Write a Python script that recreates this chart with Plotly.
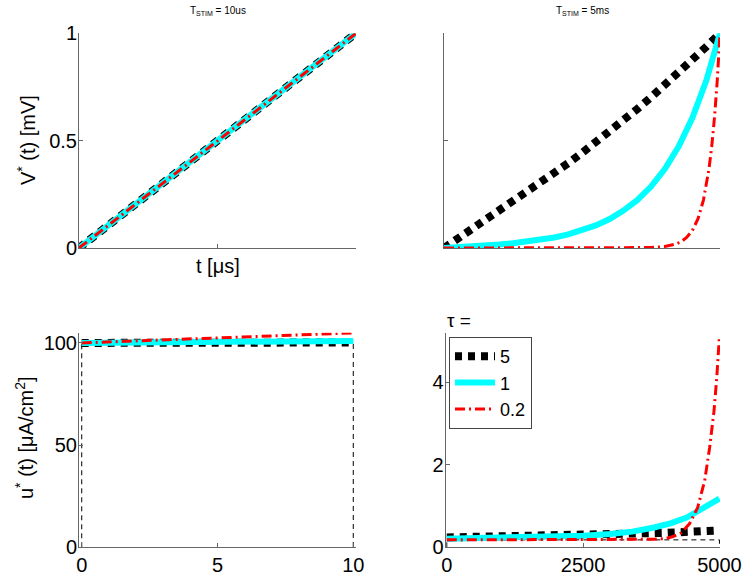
import plotly.graph_objects as go

# ---------------- data ----------------
# Top-left: T_STIM = 10 us, V*(t)
t_tl = [0, 1, 2, 3, 4, 5, 6, 7, 8, 9, 10]
v_tl_tau5 = [0, 0.1, 0.2, 0.3, 0.4, 0.5, 0.6, 0.7, 0.8, 0.9, 1.0]
v_tl_tau1 = [0, 0.1, 0.2, 0.3, 0.4, 0.5, 0.6, 0.7, 0.8, 0.9, 1.0]
v_tl_tau02 = [0, 0.099, 0.199, 0.299, 0.399, 0.499, 0.599, 0.699, 0.8, 0.9, 1.0]

# Top-right: T_STIM = 5 ms, V*(t)
t_tr = [0, 250, 500, 750, 1000, 1250, 1500, 1750, 2000, 2250, 2500,
        2750, 3000, 3250, 3500, 3750, 4000, 4250, 4500, 4750, 5000]
v_tr_tau5 = [0, 0.043, 0.085, 0.128, 0.171, 0.215, 0.259, 0.303, 0.348, 0.395, 0.443,
             0.492, 0.542, 0.594, 0.647, 0.702, 0.758, 0.816, 0.876, 0.937, 1.0]
v_tr_tau1 = [0, 0.003, 0.007, 0.011, 0.016, 0.022, 0.029, 0.038, 0.049, 0.063, 0.082,
             0.105, 0.135, 0.174, 0.223, 0.286, 0.368, 0.472, 0.606, 0.779, 1.0]
t_tr_red = [0, 2500, 3500, 3750, 4000, 4100, 4200, 4300, 4400, 4500, 4600,
            4700, 4750, 4800, 4850, 4900, 4950, 5000]
v_tr_tau02 = [0, 0, 0.001, 0.002, 0.007, 0.011, 0.018, 0.030, 0.050, 0.082, 0.135,
              0.223, 0.287, 0.368, 0.472, 0.607, 0.779, 1.0]

# Bottom-left: T_STIM = 10 us, u*(t)
t_bl = [0, 1, 2, 3, 4, 5, 6, 7, 8, 9, 10]
u_bl_tau5 = [100.0, 100.02, 100.04, 100.06, 100.08, 100.1, 100.12, 100.14, 100.16, 100.18, 100.2]
u_bl_tau1 = [100.0, 100.1, 100.2, 100.3, 100.4, 100.5, 100.6, 100.7, 100.8, 100.9, 101.0]
u_bl_tau02 = [100.0, 100.5, 101.0, 101.5, 102.0, 102.5, 103.0, 103.5, 104.0, 104.5, 104.9]
t_bl_rect = [0, 0, 10, 10]
u_bl_rect = [0, 100, 100, 0]

# Bottom-right: T_STIM = 5 ms, u*(t)
t_br_tau5 = [0, 1000, 2000, 3000, 4000, 4500, 5000]
u_br_tau5 = [0.24, 0.26, 0.29, 0.32, 0.35, 0.38, 0.41]
t_br_tau1 = [0, 1000, 2000, 2500, 3000, 3400, 3800, 4100, 4400, 4700, 5000]
u_br_tau1 = [0.21, 0.23, 0.26, 0.28, 0.32, 0.38, 0.48, 0.58, 0.72, 0.93, 1.18]
t_br_tau02 = [0, 1000, 2000, 3000, 3500, 3800, 4000, 4150, 4300, 4450, 4600,
              4730, 4820, 4900, 4950, 5000]
u_br_tau02 = [0.18, 0.18, 0.18, 0.18, 0.185, 0.195, 0.21, 0.26, 0.35, 0.57, 0.96,
              1.62, 2.42, 3.3, 4.1, 5.13]
t_br_rect = [0, 0, 5000, 5000]
u_br_rect = [0, 0.18, 0.18, 0]

tau_names = ["5", "1", "0.2"]

# ---------------- styles ----------------
W, H = 747, 576
FONT = "Liberation Sans, Arial, Helvetica, sans-serif"
BLACK = dict(color="black", width=8, dash="7px,6px")
CYAN = dict(color="#00FFFF", width=6)
RED = dict(color="red", width=3, dash="10px,4px,2px,4px")
RECT = dict(color="black", width=1, dash="5px,4px")
AXC = "#666666"


def sx(px):
    return px / W


def sy(py):
    return 1 - py / H


def px_x(a, b):
    return [sx(a), sx(b)]


def px_y(top, bottom):
    return [sy(bottom), sy(top)]


fig = go.Figure()


def add(x, y, line, ax, name=None, legend=False):
    fig.add_trace(go.Scatter(x=x, y=y, mode="lines", line=line,
                             xaxis="x" + ax, yaxis="y" + ax,
                             name=name, showlegend=legend, hoverinfo="skip"))


# top-left
add(t_tl, v_tl_tau5, BLACK, "")
add(t_tl, v_tl_tau1, CYAN, "")
add(t_tl, v_tl_tau02, RED, "")
# top-right
add(t_tr, v_tr_tau5, BLACK, "2")
add(t_tr, v_tr_tau1, CYAN, "2")
add(t_tr_red, v_tr_tau02, RED, "2")
# bottom-left
add(t_bl_rect, u_bl_rect, RECT, "3")
add(t_bl, u_bl_tau5, BLACK, "3")
add(t_bl, u_bl_tau1, CYAN, "3")
add(t_bl, u_bl_tau02, RED, "3")
# bottom-right
add(t_br_rect, u_br_rect, RECT, "4")
add(t_br_tau5, u_br_tau5, BLACK, "4", tau_names[0], True)
add(t_br_tau1, u_br_tau1, CYAN, "4", tau_names[1], True)
add(t_br_tau02, u_br_tau02, RED, "4", tau_names[2], True)

axcommon = dict(showline=True, linecolor=AXC, linewidth=1, mirror=False,
                showgrid=False, zeroline=False, ticks="inside", ticklen=4,
                tickcolor=AXC, tickwidth=1, automargin=False,
                tickfont=dict(family=FONT, size=20, color="black"))

fig.update_layout(
    width=W, height=H,
    margin=dict(l=0, r=0, t=0, b=0, pad=0),
    paper_bgcolor="white", plot_bgcolor="white",
    font=dict(family=FONT, size=20, color="black"),
    xaxis=dict(domain=px_x(79, 356), range=[0, 10], tickvals=[0, 5, 10],
               showticklabels=False, anchor="y", **axcommon),
    yaxis=dict(domain=px_y(33.3, 248), range=[0, 1], tickvals=[0, 0.5, 1],
               ticktext=["0", "0.5", "1"], anchor="x", ticklabelstandoff=-3, **axcommon),
    xaxis2=dict(domain=px_x(444, 720), range=[0, 5000], tickvals=[0, 5000],
                showticklabels=False, anchor="y2", **axcommon),
    yaxis2=dict(domain=px_y(33.3, 248), range=[0, 1], tickvals=[0, 0.5, 1],
                showticklabels=False, anchor="x2", **axcommon),
    xaxis3=dict(domain=px_x(79, 356), range=[-0.1, 10.1], tickvals=[0, 5, 10],
                anchor="y3", **axcommon),
    yaxis3=dict(domain=px_y(332.7, 547.3), range=[0, 105], tickvals=[0, 50, 100],
                anchor="x3", ticklabelstandoff=-3, **axcommon),
    xaxis4=dict(domain=px_x(445.7, 720), range=[-20, 5010], tickvals=[0, 2500, 5000],
                anchor="y4", **axcommon),
    yaxis4=dict(domain=px_y(332.7, 547.3), range=[0, 5.2], tickvals=[0, 2, 4],
                anchor="x4", ticklabelstandoff=-3, **axcommon),
    legend=dict(x=sx(449), y=sy(337), xanchor="left", yanchor="top",
                bordercolor="#444444", borderwidth=1, bgcolor="white",
                font=dict(family=FONT, size=18, color="black"),
                itemwidth=40, tracegroupgap=0),
)

ann = [
    dict(text="T<sub>STIM</sub> = 10us", x=217.5, y=11, size=10, angle=0, xa="center"),
    dict(text="T<sub>STIM</sub> = 5ms", x=582, y=11, size=10, angle=0, xa="center"),
    dict(text="t [μs]", x=217.5, y=266, size=20, angle=0, xa="center"),
    dict(text="V<sup>*</sup> (t) [mV]", x=26, y=140, size=20, angle=-90, xa="center"),
    dict(text="u<sup>*</sup> (t) [μA/cm<sup>2</sup>]", x=24, y=438, size=20, angle=-90, xa="center"),
    dict(text="τ =", x=445, y=320, size=19, angle=0, xa="left"),
]
for a in ann:
    fig.add_annotation(text=a["text"], x=sx(a["x"]), y=sy(a["y"]), xref="paper", yref="paper",
                       xanchor=a["xa"], yanchor="middle", showarrow=False,
                       textangle=a["angle"],
                       font=dict(family=FONT, size=a["size"], color="black"))

fig.write_html("out.html", config={"displayModeBar": False},
               post_script="document.body.style.margin='0';document.body.style.padding='0';")
